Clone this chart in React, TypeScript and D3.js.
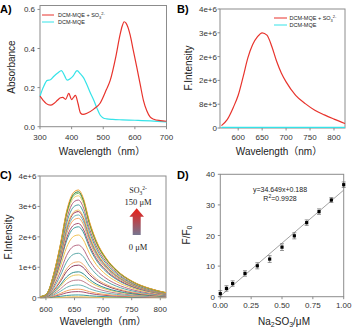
import React from 'react';
import * as d3 from 'd3';

const SANS = "'Liberation Sans', Arial, 'Noto Sans CJK SC', sans-serif";
const SERIF = "'Liberation Serif', 'Times New Roman', serif";
const RED = '#e8332c';
const CYAN = '#35e3e8';
const FRAME = '#8c8c8c';
const INK = '#222';

/* ── A) absorbance ── */
const A_WL_RED = [300, 310, 320, 333, 345, 355, 365, 372, 381, 391, 400, 406, 412, 420, 428, 436, 450, 470, 490, 510, 522, 540, 553, 560, 566, 572, 585, 595, 606, 617, 627, 638, 648, 660, 680, 700];
const A_RED = [0.156, 0.135, 0.118, 0.11, 0.12, 0.135, 0.148, 0.15, 0.14, 0.17, 0.139, 0.15, 0.16, 0.12, 0.07, 0.063, 0.07, 0.09, 0.12, 0.19, 0.237, 0.36, 0.47, 0.515, 0.537, 0.53, 0.47, 0.39, 0.305, 0.215, 0.135, 0.08, 0.05, 0.038, 0.031, 0.028];
const A_WL_CYAN = [300, 310, 323, 333, 344, 356, 368, 378, 386, 395, 405, 417, 428, 438, 447, 460, 470, 480, 490, 500, 511, 530, 560, 600, 650, 700];
const A_CYAN = [0.156, 0.2, 0.237, 0.24, 0.258, 0.275, 0.287, 0.26, 0.238, 0.245, 0.26, 0.287, 0.27, 0.25, 0.22, 0.17, 0.135, 0.095, 0.06, 0.045, 0.04, 0.037, 0.035, 0.033, 0.03, 0.025];
const A_XTICKS = [300, 400, 500, 600, 700];
const A_YTICKS = [0, 0.2, 0.4, 0.6];
const A_YLABELS = ['0.0', '0.2', '0.4', '0.6'];

/* ── B) emission, with / without sulfite ── */
const B_WL = [565, 577, 590, 600, 610, 620, 630, 640, 650, 660, 670, 680, 690, 700, 720, 740, 760, 780, 800, 823];
const B_RED = [0.08, 0.28, 0.7, 1.1, 1.7, 2.35, 2.8, 3.06, 3.2, 3.12, 2.75, 2.25, 1.85, 1.55, 1.1, 0.82, 0.6, 0.44, 0.3, 0.15];
const B_CYAN = [0.02, 0.02, 0.02, 0.02, 0.02, 0.02, 0.02, 0.02, 0.02, 0.02, 0.02, 0.02, 0.02, 0.02, 0.02, 0.02, 0.02, 0.02, 0.02, 0.02];
const B_XTICKS = [600, 650, 700, 750, 800];
const B_YTICKS = [0, 0.8, 1.6, 2.4, 3.2, 4.0];
const B_YLABELS = ['0', '8e+5', '2e+6', '2e+6', '3e+6', '4e+6'];

/* ── C) titration spectra ── */
const C_WL = [590, 600, 604, 613, 625, 636, 645, 651, 657, 665, 676, 688, 705, 723, 752, 781, 810];
const C_SHAPE = [0.01, 0.03, 0.06, 0.21, 0.49, 0.8, 0.95, 0.99, 1.0, 0.93, 0.71, 0.53, 0.37, 0.26, 0.15, 0.087, 0.047];
const C_PEAKS = [0.03, 0.09, 0.2, 0.28, 0.42, 0.58, 0.75, 0.85, 1.07, 1.18, 1.46, 1.73, 2.06, 2.33, 2.44, 2.61, 2.72, 2.83, 2.88, 3.05, 3.21, 3.35, 3.43, 3.48, 3.54];
const C_COLORS = ['#f2c14e', '#3a9c9c', '#a8506e', '#f4a460', '#6bb5b5', '#c0808f', '#e8c860', '#2f8f8f', '#8e3a5c', '#f0b070', '#5aa8a8', '#b86a84', '#f2c14e', '#3a9c9c', '#a8506e', '#f4a460', '#6bb5b5', '#9c3050', '#f0c060', '#4aa0a0', '#b06080', '#f2cf6a', '#7cc070', '#2e7d32', '#f0a030'];
const C_XTICKS = [600, 650, 700, 750, 800];
const C_YTICKS = [0, 1, 2, 3, 4];
const C_YLABELS = ['0', '1e+6', '2e+6', '3e+6', '4e+6'];

/* ── D) calibration ── */
const D_X = [0, 0.05, 0.1, 0.2, 0.3, 0.4, 0.5, 0.6, 0.7, 0.8, 0.9, 1.0];
const D_Y = [1.0, 2.7, 4.3, 7.6, 10.1, 12.3, 16.2, 19.9, 24.2, 27.8, 31.6, 36.6];
const D_ERR = [1.0, 0.9, 0.9, 0.9, 1.0, 1.1, 1.1, 1.0, 0.9, 0.9, 0.8, 0.9];
const D_SLOPE = 34.649;
const D_INTERCEPT = 0.188;
const D_XTICKS = [0, 0.25, 0.5, 0.75, 1];
const D_XLABELS = ['0.00', '0.25', '0.50', '0.75', '1.00'];
const D_YTICKS = [0, 10, 20, 30, 40];

function Axes({ x, y, xTicks, xLabels, yTicks, yLabels, xLabY, yLabX, box = true }: any) {
  const [x0, x1] = x.range();
  const [y0, y1] = y.range();
  return (
    <g fontFamily={SANS} fontSize={8} fill="#333">
      {box
        ? <rect x={x0} y={y1} width={x1 - x0} height={y0 - y1} fill="none" stroke={FRAME} strokeWidth={1} />
        : <path d={`M${x0},${y1}V${y0}H${x1}`} fill="none" stroke={FRAME} strokeWidth={1} />}
      {xTicks.map((t: number, i: number) => (
        <g key={'x' + i}>
          <line x1={x(t)} x2={x(t)} y1={y0} y2={y0 + 2.5} stroke={FRAME} />
          <text x={x(t)} y={xLabY} textAnchor="middle">{xLabels[i]}</text>
        </g>
      ))}
      {yTicks.map((t: number, i: number) => (
        <g key={'y' + i}>
          <line x1={x0 - 2.5} x2={x0} y1={y(t)} y2={y(t)} stroke={FRAME} />
          <text x={yLabX} y={y(t) + 3} textAnchor="end">{yLabels[i]}</text>
        </g>
      ))}
    </g>
  );
}

function PanelA() {
  const x = d3.scaleLinear().domain([300, 700]).range([40, 166.5]);
  const y = d3.scaleLinear().domain([0, 0.62]).range([126.7, 5.5]);
  const line = d3.line<[number, number]>().x(d => x(d[0])).y(d => y(d[1])).curve(d3.curveMonotoneX);
  const red = A_WL_RED.map((w, i) => [w, A_RED[i]] as [number, number]);
  const cyan = A_WL_CYAN.map((w, i) => [w, A_CYAN[i]] as [number, number]);
  return (
    <g>
      <Axes x={x} y={y} xTicks={A_XTICKS} xLabels={A_XTICKS.map(String)} yTicks={A_YTICKS} yLabels={A_YLABELS} xLabY={139.5} yLabX={35} />
      <path d={line(cyan) || ''} fill="none" stroke={CYAN} strokeWidth={1.2} />
      <path d={line(red) || ''} fill="none" stroke={RED} strokeWidth={1.2} />
      <line x1={42} x2={54} y1={15} y2={15} stroke={RED} strokeWidth={1} />
      <line x1={42} x2={54} y1={22} y2={22} stroke={CYAN} strokeWidth={1} />
      <text x={58} y={17} fontSize={5.5} fontFamily={SANS} fill={INK}>DCM-MQE + SO<tspan fontSize={4} dy={1.5}>3</tspan><tspan fontSize={4} dy={-4}>2-</tspan></text>
      <text x={58} y={24} fontSize={5.5} fontFamily={SANS} fill={INK}>DCM-MQE</text>
      <text x={15} y={67} transform="rotate(-90,15,67)" textAnchor="middle" fontSize={10} fontFamily={SANS} fill={INK}>Absorbance</text>
      <text x={102} y={155} textAnchor="middle" fontSize={10} fontFamily={SANS} fill={INK}>Wavelength（nm）</text>
      <text x={0} y={12.5} fontSize={11} fontWeight="bold" fontFamily={SANS} fill="#000">A)</text>
    </g>
  );
}

function PanelB() {
  const x = d3.scaleLinear().domain([562, 823]).range([220, 345]);
  const y = d3.scaleLinear().domain([0, 4]).range([128, 9]);
  const line = d3.line<number>().x((_, i) => x(B_WL[i])).y(d => y(d)).curve(d3.curveMonotoneX);
  return (
    <g>
      <Axes x={x} y={y} xTicks={B_XTICKS} xLabels={B_XTICKS.map(String)} yTicks={B_YTICKS} yLabels={B_YLABELS} xLabY={140} yLabX={217} />
      <path d={line(B_CYAN) || ''} fill="none" stroke={CYAN} strokeWidth={1.4} />
      <path d={line(B_RED) || ''} fill="none" stroke={RED} strokeWidth={1.2} />
      <line x1={274} x2={287} y1={18} y2={18} stroke={RED} strokeWidth={1} />
      <line x1={274} x2={287} y1={25} y2={25} stroke={CYAN} strokeWidth={1} />
      <text x={289.5} y={20} fontSize={5.5} fontFamily={SANS} fill={INK}>DCM-MQE + SO<tspan fontSize={4} dy={1.5}>3</tspan><tspan fontSize={4} dy={-4}>2-</tspan></text>
      <text x={289.5} y={27} fontSize={5.5} fontFamily={SANS} fill={INK}>DCM-MQE</text>
      <text x={192} y={68} transform="rotate(-90,192,68)" textAnchor="middle" fontSize={10} fontFamily={SANS} fill={INK}>F.Intensity</text>
      <text x={279} y={155} textAnchor="middle" fontSize={10} fontFamily={SANS} fill={INK}>Wavelength（nm）</text>
      <text x={177} y={12.5} fontSize={11} fontWeight="bold" fontFamily={SANS} fill="#000">B)</text>
    </g>
  );
}

function PanelC() {
  const x = d3.scaleLinear().domain([589.6, 810]).range([40, 166]);
  const y = d3.scaleLinear().domain([0, 4]).range([297.7, 176]);
  const line = d3.line<number>().x((_, i) => x(C_WL[i])).y(d => y(d)).curve(d3.curveMonotoneX);
  return (
    <g>
      <defs>
        <linearGradient id="arrowGrad" x1="0" x2="0" y1="0" y2="1">
          <stop offset="0" stopColor="#ec1c14" />
          <stop offset="1" stopColor="#767690" />
        </linearGradient>
      </defs>
      <Axes x={x} y={y} xTicks={C_XTICKS} xLabels={C_XTICKS.map(String)} yTicks={C_YTICKS} yLabels={C_YLABELS} xLabY={311.5} yLabX={36.5} />
      {C_PEAKS.map((p, k) => (
        <path key={k} d={line(C_SHAPE.map(s => s * p)) || ''} fill="none" stroke={C_COLORS[k]} strokeWidth={1} />
      ))}
      <path d="M136.7,208.3 L144,216.7 L140.7,216.7 L140.7,235 L132.7,235 L132.7,216.7 L129.4,216.7 Z" fill="url(#arrowGrad)" />
      <text x={138} y={193} fontSize={8} fontFamily={SERIF} textAnchor="middle" fill={INK}>
        SO<tspan fontSize={5.5} dy={1.5}>3</tspan><tspan fontSize={5.5} dy={-5}>2-</tspan>
      </text>
      <text x={138} y={204.5} fontSize={8.5} fontFamily={SERIF} textAnchor="middle" fill={INK}>150 μM</text>
      <text x={138} y={250} fontSize={8.5} fontFamily={SERIF} textAnchor="middle" fill={INK}>0 μM</text>
      <text x={12} y={237} transform="rotate(-90,12,237)" textAnchor="middle" fontSize={10} fontFamily={SANS} fill={INK}>F.Intensity</text>
      <text x={103} y={325} textAnchor="middle" fontSize={10} fontFamily={SANS} fill={INK}>Wavelength（nm）</text>
      <text x={0} y={178.5} fontSize={11} fontWeight="bold" fontFamily={SANS} fill="#000">C)</text>
    </g>
  );
}

function PanelD() {
  const x = d3.scaleLinear().domain([0, 1]).range([220.3, 343.7]);
  const y = d3.scaleLinear().domain([0, 40]).range([296.7, 174.3]);
  return (
    <g>
      <Axes x={x} y={y} xTicks={D_XTICKS} xLabels={D_XLABELS} yTicks={D_YTICKS} yLabels={D_YTICKS.map(String)} xLabY={307.5} yLabX={215} />
      <line x1={x(0)} x2={x(1)} y1={y(D_INTERCEPT)} y2={y(D_SLOPE + D_INTERCEPT)} stroke="#8a8a8a" strokeWidth={0.8} />
      {D_X.map((v, i) => (
        <g key={i} stroke="#6a6a6a" strokeWidth={0.7}>
          <line x1={x(v)} x2={x(v)} y1={y(D_Y[i] - D_ERR[i])} y2={y(D_Y[i] + D_ERR[i])} />
          <line x1={x(v) - 2} x2={x(v) + 2} y1={y(D_Y[i] - D_ERR[i])} y2={y(D_Y[i] - D_ERR[i])} />
          <line x1={x(v) - 2} x2={x(v) + 2} y1={y(D_Y[i] + D_ERR[i])} y2={y(D_Y[i] + D_ERR[i])} />
          <rect x={x(v) - 1.6} y={y(D_Y[i]) - 1.6} width={3.2} height={3.2} fill="#000" stroke="none" />
        </g>
      ))}
      <text x={280} y={192} textAnchor="middle" fontSize={7} fontFamily={SANS} fill={INK}>y=34.649x+0.188</text>
      <text x={280} y={200.5} textAnchor="middle" fontSize={7} fontFamily={SANS} fill={INK}>R<tspan fontSize={5} dy={-3}>2</tspan><tspan dy={3}>=0.9928</tspan></text>
      <text x={190} y={235} transform="rotate(-90,190,235)" textAnchor="middle" fontSize={10} fontFamily={SANS} fill={INK}>F/F<tspan fontSize={7} dy={2}>0</tspan></text>
      <text x={284} y={325} textAnchor="middle" fontSize={10} fontFamily={SANS} fill={INK}>Na<tspan fontSize={7} dy={2}>2</tspan><tspan dy={-2}>SO</tspan><tspan fontSize={7} dy={2}>3</tspan><tspan dy={-2}>/μM</tspan></text>
      <text x={177} y={178.5} fontSize={11} fontWeight="bold" fontFamily={SANS} fill="#000">D)</text>
    </g>
  );
}

export default function App() {
  return (
    <svg width={354} height={330} style={{ position: 'absolute', left: 0, top: 0, background: '#fff' }}>
      <PanelA />
      <PanelB />
      <PanelC />
      <PanelD />
    </svg>
  );
}
